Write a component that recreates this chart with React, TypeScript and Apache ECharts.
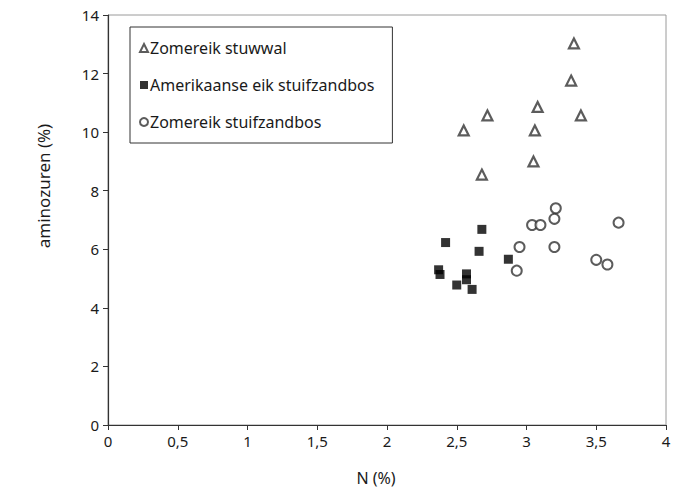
import React, { useEffect, useRef } from "react";
import * as echarts from "echarts";

const seriesNames = ["Zomereik stuwwal", "Amerikaanse eik stuifzandbos", "Zomereik stuifzandbos"];

const stuwwalN = [3.34, 3.32, 3.08, 2.72, 3.39, 2.55, 3.06, 3.05, 2.68];
const stuwwalAmino = [13.03, 11.76, 10.86, 10.57, 10.57, 10.06, 10.06, 9.0, 8.55];

const amerikaanseN = [2.68, 2.42, 2.66, 2.87, 2.37, 2.38, 2.57, 2.57, 2.5, 2.61];
const amerikaanseAmino = [6.68, 6.23, 5.93, 5.66, 5.3, 5.14, 5.16, 4.96, 4.78, 4.63];

const stuifN = [3.21, 3.2, 3.04, 3.1, 3.66, 2.95, 3.2, 2.93, 3.5, 3.58];
const stuifAmino = [7.4, 7.04, 6.83, 6.83, 6.91, 6.08, 6.08, 5.27, 5.64, 5.48];

const xTicks = [0, 0.5, 1, 1.5, 2, 2.5, 3, 3.5, 4];
const yTicks = [0, 2, 4, 6, 8, 10, 12, 14];

const FONT = "'Noto Sans', 'Open Sans', sans-serif";

function pairs(xs: number[], ys: number[]) {
  return xs.map((x, i) => [x, ys[i]]);
}

export default function App() {
  const ref = useRef<HTMLDivElement>(null);
  useEffect(() => {
    if (!ref.current) return;
    document.body.style.margin = "0";
    const chart = echarts.init(ref.current, undefined, { renderer: "svg" });
    chart.setOption({
      animation: false,
      backgroundColor: "#ffffff",
      textStyle: { fontFamily: FONT },
      grid: {
        left: 108,
        right: 19,
        top: 15,
        bottom: 66,
        show: true,
        borderColor: "#9a9a9a",
        borderWidth: 1,
        containLabel: false,
      },
      legend: {
        orient: "vertical",
        left: 130,
        top: 27,
        padding: [13, 18, 13, 9],
        itemGap: 21,
        itemWidth: 8,
        itemHeight: 8,
        borderColor: "#333333",
        borderWidth: 1,
        backgroundColor: "#ffffff",
        textStyle: { fontFamily: FONT, fontSize: 16, color: "#1a1a1a", padding: [0, 0, 0, -3] },
        data: [
          { name: seriesNames[0], icon: "triangle" },
          { name: seriesNames[1], icon: "rect" },
          { name: seriesNames[2], icon: "circle" },
        ],
      },
      xAxis: {
        type: "value",
        min: 0,
        max: 4,
        interval: 0.5,
        splitLine: { show: false },
        axisLine: { show: true, onZero: false, lineStyle: { color: "#333333", width: 1.2 } },
        axisTick: { show: true, length: 5, lineStyle: { color: "#333333" } },
        axisLabel: {
          color: "#1a1a1a",
          fontSize: 15,
          margin: 8,
          fontFamily: FONT,
          formatter: (v: number) => (xTicks.includes(v) ? String(v).replace(".", ",") : ""),
        },
      },
      yAxis: {
        type: "value",
        min: 0,
        max: 14,
        interval: 2,
        splitLine: { show: false },
        axisLine: { show: true, onZero: false, lineStyle: { color: "#333333", width: 1.2 } },
        axisTick: { show: true, length: 5, lineStyle: { color: "#333333" } },
        axisLabel: {
          color: "#1a1a1a",
          fontSize: 15,
          margin: 9,
          fontFamily: FONT,
          formatter: (v: number) => (yTicks.includes(v) ? String(v) : ""),
        },
      },
      graphic: [
        {
          type: "text",
          x: 376,
          y: 478,
          style: {
            text: "N (%)",
            fontSize: 16,
            fontFamily: FONT,
            fill: "#1a1a1a",
            textAlign: "center",
            textVerticalAlign: "middle",
          },
        },
        {
          type: "text",
          x: 43,
          y: 186,
          rotation: Math.PI / 2,
          style: {
            text: "aminozuren (%)",
            fontSize: 17,
            fontFamily: FONT,
            fill: "#1a1a1a",
            textAlign: "center",
            textVerticalAlign: "middle",
          },
        },
      ],
      series: [
        {
          name: seriesNames[0],
          type: "scatter",
          symbol: "triangle",
          symbolSize: 10,
          itemStyle: { color: "#ffffff", borderColor: "#333333", borderWidth: 2.2 },
          data: pairs(stuwwalN, stuwwalAmino),
        },
        {
          name: seriesNames[1],
          type: "scatter",
          symbol: "rect",
          symbolSize: 9,
          itemStyle: { color: "#000000", borderColor: "#000000", borderWidth: 0 },
          data: pairs(amerikaanseN, amerikaanseAmino),
        },
        {
          name: seriesNames[2],
          type: "scatter",
          symbol: "circle",
          symbolSize: 10,
          itemStyle: { color: "#ffffff", borderColor: "#333333", borderWidth: 2 },
          data: pairs(stuifN, stuifAmino),
        },
      ],
    });
    return () => chart.dispose();
  }, []);
  return <div ref={ref} style={{ width: 685, height: 491 }} />;
}
